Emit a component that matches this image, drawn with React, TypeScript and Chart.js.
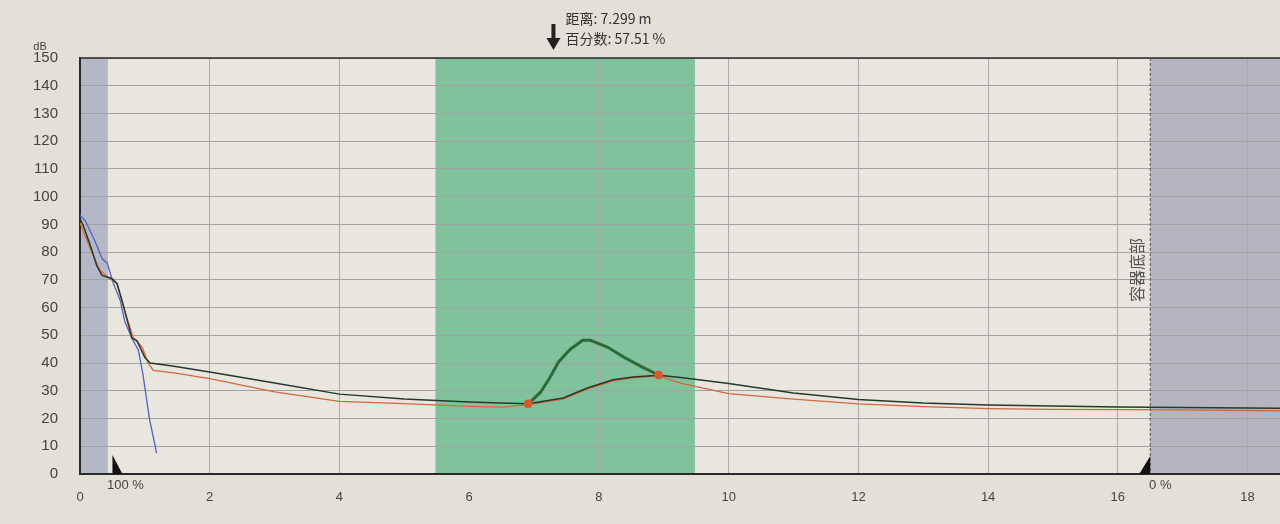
import { useEffect, useRef } from "react";
import { Chart, registerables } from "chart.js";

Chart.register(...registerables);

// ---- data (distance in m, amplitude in dB) ----
const echoX = [0, 0.05, 0.15, 0.26, 0.34, 0.49, 0.57, 0.66, 0.74, 0.8, 0.88, 1.0, 1.08, 1.4, 2.0, 3.0, 4.0, 5.0, 6.0, 6.5, 6.91, 7.45, 7.82, 8.22, 8.53, 8.92, 9.26, 9.6, 10.0, 11.0, 12.0, 13.0, 14.0, 15.0, 16.0, 17.0, 18.0, 18.5];
const echoDb = [92, 89.6, 83, 75, 71.6, 70.5, 68.7, 61.5, 54.3, 49, 48, 42, 40, 39, 36.8, 32.8, 28.8, 27, 26, 25.6, 25.3, 27.4, 31, 34, 35, 35.6, 34.8, 33.8, 32.6, 29.2, 26.9, 25.6, 24.9, 24.5, 24.2, 24, 23.8, 23.7];

const mapX = [0, 0.15, 0.31, 0.46, 0.57, 0.72, 0.82, 0.96, 1.05, 1.13, 1.5, 2.0, 3.0, 4.0, 5.0, 6.0, 6.5, 6.91, 7.45, 7.82, 8.22, 8.53, 8.92, 9.26, 10.0, 11.0, 12.0, 13.0, 14.0, 15.0, 16.0, 17.0, 18.0, 18.5];
const mapDb = [90.6, 81.7, 73.4, 70.5, 68.7, 56.5, 49.3, 45.7, 40, 37.4, 36.3, 34.4, 29.6, 26.2, 25.4, 24.4, 24.1, 25.0, 27.0, 30.6, 33.6, 34.7, 35.4, 32.8, 29.0, 27.0, 25.3, 24.3, 23.6, 23.3, 23.2, 23.1, 22.9, 22.8];

const blueX = [0, 0.08, 0.23, 0.34, 0.42, 0.51, 0.62, 0.69, 0.8, 0.9, 0.97, 1.07, 1.16, 1.18];
const blueDb = [93.2, 91.4, 84, 77.7, 76, 69, 62.6, 55, 49, 44.6, 36, 20, 10, 7.5];

const peakX = [6.91, 7.1, 7.25, 7.38, 7.56, 7.75, 7.87, 8.13, 8.38, 8.64, 8.92];
const peakDb = [25.3, 29.5, 35, 40.5, 45, 48.2, 48.2, 45.8, 42.2, 38.9, 35.7];

const markerX = [6.91, 8.92];
const markerDb = [25.3, 35.7];

const xTickValues = [0, 2, 4, 6, 8, 10, 12, 14, 16, 18];
const leftBand = [0, 0.43];
const focusBand = [5.48, 9.48];
const rightBand = [16.5, 18.5];
const fullMarker = 0.5;
const emptyMarker = 16.5;
const fullLabel = "100 %";
const emptyLabel = "0 %";
const bottomLabel = "容器底部";
const cursorX = 7.299;
const cursorLine1 = "距离: 7.299 m";
const cursorLine2 = "百分数: 57.51 %";
const unitLabel = "dB";

const PAGE = "#e2e0d7";
const PLOT = "#e8e6de";
const FONT = "'Liberation Sans', Arial, sans-serif";

const pts = (xs: number[], ys: number[]) => xs.map((x, i) => ({ x, y: ys[i] }));

const overlay = {
  id: "overlay",
  beforeDraw(chart: any) {
    const { ctx, chartArea: a, scales } = chart;
    const xs = scales.x;
    ctx.save();
    ctx.fillStyle = PAGE;
    ctx.fillRect(0, 0, chart.width, chart.height);
    ctx.fillStyle = PLOT;
    ctx.fillRect(a.left, a.top, a.right - a.left, a.bottom - a.top);
    const band = (r: number[], c: string) => {
      const x0 = xs.getPixelForValue(r[0]);
      const x1 = xs.getPixelForValue(r[1]);
      ctx.fillStyle = c;
      ctx.fillRect(x0, a.top, x1 - x0, a.bottom - a.top);
    };
    band(leftBand, "#b3b7c6");
    band(focusBand, "#80c29c");
    band(rightBand, "#b6b4c1");
    ctx.restore();
  },
  afterDraw(chart: any) {
    const { ctx, chartArea: a, scales } = chart;
    const xs = scales.x;
    ctx.save();
    // top frame
    ctx.strokeStyle = "#2a2a2a";
    ctx.lineWidth = 1.5;
    ctx.beginPath();
    ctx.moveTo(a.left, a.top);
    ctx.lineTo(a.right, a.top);
    ctx.stroke();
    // dashed boundary at right band
    const rx = xs.getPixelForValue(emptyMarker);
    ctx.strokeStyle = "#555";
    ctx.lineWidth = 1;
    ctx.setLineDash([3, 2]);
    ctx.beginPath();
    ctx.moveTo(rx, a.top);
    ctx.lineTo(rx, a.bottom);
    ctx.stroke();
    ctx.setLineDash([]);
    // markers
    const lx = xs.getPixelForValue(fullMarker);
    ctx.fillStyle = "#111";
    ctx.beginPath();
    ctx.moveTo(lx, a.bottom - 19);
    ctx.lineTo(lx, a.bottom);
    ctx.lineTo(lx + 10, a.bottom);
    ctx.closePath();
    ctx.fill();
    ctx.beginPath();
    ctx.moveTo(rx, a.bottom - 18);
    ctx.lineTo(rx, a.bottom);
    ctx.lineTo(rx - 11, a.bottom);
    ctx.closePath();
    ctx.fill();
    ctx.fillStyle = "#444";
    ctx.font = `13px ${FONT}`;
    ctx.textAlign = "center";
    ctx.textBaseline = "middle";
    ctx.fillText(fullLabel, lx + 13, a.bottom + 11);
    ctx.fillText(emptyLabel, rx + 10, a.bottom + 11);
    // unit
    ctx.font = `11px ${FONT}`;
    ctx.fillText(unitLabel, 40, 47);
    // vertical label
    ctx.save();
    ctx.translate(rx - 13, 270);
    ctx.rotate(-Math.PI / 2);
    ctx.font = `16px 'Noto Sans CJK SC', sans-serif`;
    ctx.fillStyle = "#555";
    ctx.fillText(bottomLabel, 0, 0);
    ctx.restore();
    // cursor arrow + text
    const cx = xs.getPixelForValue(cursorX);
    ctx.fillStyle = "#222";
    ctx.fillRect(cx - 2, 24, 4, 16);
    ctx.beginPath();
    ctx.moveTo(cx - 7, 38);
    ctx.lineTo(cx + 7, 38);
    ctx.lineTo(cx, 50);
    ctx.closePath();
    ctx.fill();
    ctx.fillStyle = "#333";
    ctx.textAlign = "left";
    ctx.font = `14px 'Noto Sans CJK SC', ${FONT}`;
    ctx.fillText(cursorLine1, cx + 12, 19);
    ctx.fillText(cursorLine2, cx + 12, 39);
    ctx.restore();
  },
};

export default function App() {
  const ref = useRef<HTMLCanvasElement>(null);
  useEffect(() => {
    const chart = new Chart(ref.current as HTMLCanvasElement, {
      type: "line",
      data: {
        datasets: [
          {
            label: "markers",
            data: pts(markerX, markerDb),
            showLine: false,
            pointRadius: 4,
            pointBackgroundColor: "#e0552e",
            pointBorderColor: "#e0552e",
            order: 0,
          },
          {
            label: "peak",
            data: pts(peakX, peakDb),
            borderColor: "#2d6a38",
            borderWidth: 3,
            pointRadius: 0,
            tension: 0,
            order: 1,
          },
          {
            label: "echo",
            data: pts(echoX, echoDb),
            borderColor: "#28382b",
            borderWidth: 1.5,
            pointRadius: 0,
            tension: 0,
            order: 2,
          },
          {
            label: "blue",
            data: pts(blueX, blueDb),
            borderColor: "#5462c0",
            borderWidth: 1.3,
            pointRadius: 0,
            tension: 0,
            order: 3,
          },
          {
            label: "map",
            data: pts(mapX, mapDb),
            borderColor: "#d4683f",
            borderWidth: 1.3,
            pointRadius: 0,
            tension: 0,
            order: 4,
          },
        ],
      },
      options: {
        animation: false,
        responsive: false,
        devicePixelRatio: 1,
        layout: { autoPadding: false, padding: { top: 58, left: 0, right: 0, bottom: 0 } },
        plugins: { legend: { display: false }, tooltip: { enabled: false } },
        scales: {
          x: {
            type: "linear",
            min: 0,
            max: 18.5,
            afterBuildTicks: (s: any) => {
              s.ticks = xTickValues.map((v) => ({ value: v }));
            },
            afterFit: (s: any) => {
              s.height = 50;
              s.paddingRight = 0;
              s.paddingLeft = 0;
            },
            ticks: {
              autoSkip: false,
              maxRotation: 0,
              padding: 16,
              color: "#444",
              font: { size: 13, family: FONT },
            },
            grid: { color: "#ababab", lineWidth: 1, drawTicks: false },
            border: { color: "#2a2a2a", width: 2 },
          },
          y: {
            min: 0,
            max: 150,
            afterFit: (s: any) => {
              s.width = 80;
            },
            ticks: {
              stepSize: 10,
              padding: 22,
              color: "#444",
              font: { size: 15, family: FONT },
            },
            grid: { color: "#a2a2a2", lineWidth: 1, drawTicks: false },
            border: { color: "#2a2a2a", width: 2 },
          },
        },
      },
      plugins: [overlay],
    } as any);
    return () => chart.destroy();
  }, []);
  return (
    <div style={{ position: "fixed", left: 0, top: 0, width: 1280, height: 524, background: PAGE }}>
      <canvas ref={ref} width={1280} height={524} style={{ display: "block", width: 1280, height: 524 }} />
    </div>
  );
}
